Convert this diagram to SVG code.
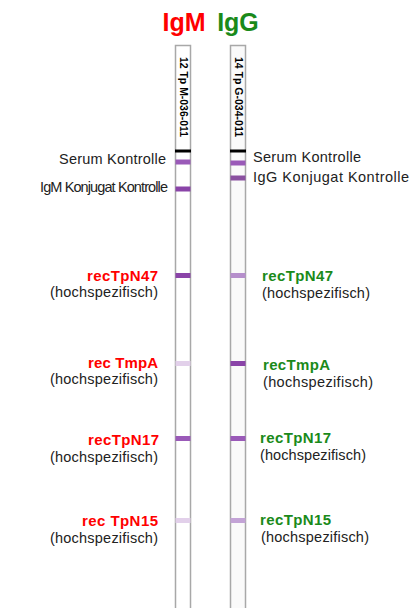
<svg xmlns="http://www.w3.org/2000/svg" width="415" height="608" viewBox="0 0 415 608">
<style>
.t{font-family:"Liberation Sans",Arial,sans-serif;font-size:14.5px;fill:#222}
.r{text-anchor:end}
.red{font-weight:bold;fill:#ff0000;font-size:15px}
.grn{font-weight:bold;fill:#1a8a1a;font-size:15px}
.title{font-family:"Liberation Sans",Arial,sans-serif;font-size:25px;font-weight:bold;text-anchor:middle}
.strip{stroke:#a8a8a8;stroke-width:1.5}
.lab{font-family:"Liberation Sans",Arial,sans-serif;font-size:10.5px;font-weight:bold;fill:#000}
</style>
<rect width="415" height="608" fill="#fff"/>
<text class="title" x="184" y="31" fill="#ff0000">IgM</text>
<text class="title" x="238" y="31" fill="#1a8a1a">IgG</text>
<g id="strip-igm">
<rect class="strip" x="175.5" y="45.5" width="15" height="570" fill="#fff"/>
<text class="lab" transform="translate(179.5,57) rotate(90)" textLength="80" lengthAdjust="spacingAndGlyphs">12 Tp M-036-011</text>
<rect x="175" y="149.5" width="16" height="3" fill="#000"/>
<rect x="175.5" y="159.5" width="15" height="5" fill="#9a5ab8"/>
<rect x="175.5" y="186.5" width="15" height="5" fill="#8a44a8"/>
<rect x="175.5" y="273" width="15" height="5" fill="#8a44a8"/>
<rect x="175.5" y="361" width="15" height="5" fill="#e2d0ea"/>
<rect x="175.5" y="436" width="15" height="5" fill="#9a5ab8"/>
<rect x="175.5" y="518" width="15" height="5" fill="#e2d0ea"/>
</g>
<g id="strip-igg">
<rect class="strip" x="230.5" y="45.5" width="15" height="570" fill="#fafafa" stroke="#c8c8c8"/>
<text class="lab" transform="translate(234.5,57) rotate(90)" textLength="80" lengthAdjust="spacingAndGlyphs">14 Tp G-034-011</text>
<rect x="230" y="149.5" width="16" height="3" fill="#000"/>
<rect x="230.5" y="160.5" width="15" height="5" fill="#9a5ab8"/>
<rect x="230.5" y="175.5" width="15" height="5" fill="#8a50a0"/>
<rect x="230.5" y="273" width="15" height="5" fill="#b68fcc"/>
<rect x="230.5" y="361" width="15" height="5" fill="#8a44a8"/>
<rect x="230.5" y="436" width="15" height="5" fill="#9a5ab8"/>
<rect x="230.5" y="518" width="15" height="5" fill="#c3a3d6"/>
</g>
<g id="labels-left">
<text class="t r" x="166" y="164" font-size="14" textLength="107">Serum Kontrolle</text>
<text class="t r" x="168" y="192" font-size="12.5" textLength="128">IgM Konjugat Kontrolle</text>
<text class="t r red" x="158" y="281" textLength="71">recTpN47</text>
<text class="t r" x="158" y="297" textLength="108">(hochspezifisch)</text>
<text class="t r red" x="158" y="368" textLength="70">rec TmpA</text>
<text class="t r" x="158" y="384" textLength="108">(hochspezifisch)</text>
<text class="t r red" x="159" y="445" textLength="71">recTpN17</text>
<text class="t r" x="158" y="462" textLength="108">(hochspezifisch)</text>
<text class="t r red" x="158" y="526" textLength="76">rec TpN15</text>
<text class="t r" x="158" y="543" textLength="108">(hochspezifisch)</text>
</g>
<g id="labels-right">
<text class="t" x="253" y="162" font-size="14" textLength="108">Serum Kontrolle</text>
<text class="t" x="253" y="182" font-size="15.5" textLength="156">IgG Konjugat Kontrolle</text>
<text class="t grn" x="262" y="281" textLength="71">recTpN47</text>
<text class="t" x="262" y="298" textLength="108">(hochspezifisch)</text>
<text class="t grn" x="263" y="370" textLength="67">recTmpA</text>
<text class="t" x="263" y="387" textLength="110">(hochspezifisch)</text>
<text class="t grn" x="260" y="443" textLength="71">recTpN17</text>
<text class="t" x="260" y="460" textLength="106">(hochspezifisch)</text>
<text class="t grn" x="260" y="525" textLength="71">recTpN15</text>
<text class="t" x="261" y="542" textLength="108">(hochspezifisch)</text>
</g>
</svg>
